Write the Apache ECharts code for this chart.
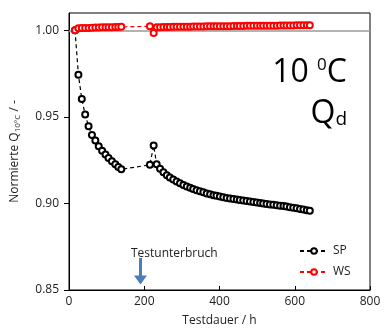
<!DOCTYPE html>
<html><head><meta charset="utf-8">
<script src="https://cdn.jsdelivr.net/npm/echarts@6/dist/echarts.min.js"></script>
<style>html,body{margin:0;padding:0;background:#fff}#c{width:384px;height:332px}</style>
</head><body><div id="c"></div>
<script>
// Testdauer (h)
var timesA = [16, 25, 34, 43, 52, 61, 70, 79, 88, 97, 105, 114, 123, 131, 139];
var timesB = [215, 225, 233, 242, 251, 260, 268, 277, 286, 295, 304, 313, 322, 330, 339, 348, 357, 366, 375, 384, 392, 401, 410, 419, 428, 437, 446, 454, 463, 472, 481, 490, 499, 508, 516, 525, 534, 543, 552, 561, 570, 578, 587, 596, 605, 614, 623, 632, 640];
var spA = [1.000, 0.9743, 0.9603, 0.9513, 0.9446, 0.9395, 0.9364, 0.9330, 0.9305, 0.9282, 0.9263, 0.9243, 0.9226, 0.9211, 0.9197];
var spB = [0.9223, 0.9335, 0.9226, 0.9200, 0.9180, 0.9163, 0.9150, 0.9138, 0.9126, 0.9116, 0.9107, 0.9098, 0.9090, 0.9083, 0.9076, 0.9070, 0.9064, 0.9058, 0.9053, 0.9048, 0.9044, 0.9040, 0.9036, 0.9032, 0.9029, 0.9026, 0.9023, 0.9020, 0.9017, 0.9014, 0.9011, 0.9008, 0.9005, 0.9002, 0.8999, 0.8997, 0.8994, 0.8992, 0.8989, 0.8987, 0.8985, 0.8982, 0.8978, 0.8975, 0.8972, 0.8968, 0.8965, 0.8961, 0.8958];
var wsA = [1.000, 1.0012, 1.0013, 1.0014, 1.0014, 1.0015, 1.0016, 1.0016, 1.0017, 1.0017, 1.0018, 1.0018, 1.0019, 1.0019, 1.0020];
var wsB = [1.0023, 0.9985, 1.0018, 1.0018, 1.0019, 1.0019, 1.0019, 1.0020, 1.0020, 1.0020, 1.0021, 1.0021, 1.0021, 1.0022, 1.0022, 1.0022, 1.0022, 1.0023, 1.0023, 1.0023, 1.0023, 1.0024, 1.0024, 1.0024, 1.0024, 1.0025, 1.0025, 1.0025, 1.0025, 1.0026, 1.0026, 1.0026, 1.0026, 1.0026, 1.0027, 1.0027, 1.0027, 1.0027, 1.0027, 1.0028, 1.0028, 1.0028, 1.0028, 1.0028, 1.0029, 1.0029, 1.0029, 1.0029, 1.0029];
var yTicks = [0.85, 0.90, 0.95, 1.00];
var xTicks = [0, 200, 400, 600, 800];
var breakTime = 190;
var breakLabel = 'Testunterbruch';

function pairs(t, v) { return t.map(function (x, i) { return [x, v[i]]; }); }
var spData = pairs(timesA, spA).concat(pairs(timesB, spB));
var wsData = pairs(timesA, wsA).concat(pairs(timesB, wsB));

var FONT = '"Open Sans", sans-serif';
var chart = echarts.init(document.getElementById('c'), null, {renderer: 'canvas'});
chart.setOption({
  animation: false,
  textStyle: {fontFamily: FONT},
  grid: {left: 69, right: 14, top: 13, bottom: 41, show: true, borderColor: '#000', borderWidth: 1, backgroundColor: 'transparent'},
  xAxis: {
    type: 'value', min: 0, max: 800, interval: 200,
    name: 'Testdauer / h', nameLocation: 'middle', nameGap: 25,
    nameTextStyle: {fontFamily: FONT, fontSize: 12, color: '#222'},
    axisLine: {lineStyle: {color: '#000', width: 1}},
    axisTick: {inside: true, length: 4, lineStyle: {color: '#000'}},
    axisLabel: {fontFamily: FONT, fontSize: 12, color: '#222', margin: 6},
    splitLine: {show: false}
  },
  yAxis: {
    type: 'value', min: 0.85, max: 1.01, interval: 0.05,
    name: '{a|Normierte Q}{s|10°C}{a| / -}', nameLocation: 'middle', nameGap: 47, nameRotate: 90,
    nameTextStyle: {rich: {
      a: {fontFamily: FONT, fontSize: 12, color: '#222'},
      s: {fontFamily: FONT, fontSize: 8, color: '#222', padding: [6, 0, 0, 0]}
    }},
    axisLine: {show: true, lineStyle: {color: '#000', width: 1}},
    axisTick: {inside: false, length: 5, customValues: yTicks, lineStyle: {color: '#000'}},
    axisLabel: {fontFamily: FONT, fontSize: 12, color: '#222', margin: 10, customValues: yTicks,
      formatter: function (v) { return v.toFixed(2); }},
    splitLine: {show: false}
  },
  legend: {
    orient: 'vertical', left: 294, top: 240, itemGap: 9, itemWidth: 28, itemHeight: 7,
    textStyle: {fontFamily: FONT, fontSize: 12, color: '#222'},
    data: ['SP', 'WS']
  },
  series: [
    {
      name: 'SP', type: 'line', data: spData, z: 3,
      symbol: 'emptyCircle', symbolSize: 6,
      lineStyle: {color: '#000', width: 1.2, type: [4, 3]},
      itemStyle: {color: '#000', borderColor: '#000', borderWidth: 1},
      markLine: {
        silent: true, symbol: ['none', 'triangle'], symbolSize: [13, 9], symbolRotate: 180,
        lineStyle: {color: '#4a7ebb', width: 3, type: 'solid'},
        label: {show: false},
        data: [[{coord: [breakTime, 0.8685]}, {coord: [breakTime, 0.8558]}]]
      }
    },
    {
      name: 'WS', type: 'line', data: wsData, z: 4,
      symbol: 'emptyCircle', symbolSize: 6,
      lineStyle: {color: '#ff0000', width: 1.2, type: [4, 3]},
      itemStyle: {color: '#ff0000', borderColor: '#ff0000', borderWidth: 1},
      markLine: {
        silent: true, symbol: 'none', z: 1,
        lineStyle: {color: '#9a9a9a', width: 1.5, type: 'solid'},
        label: {show: false},
        data: [{yAxis: 1.0}]
      }
    }
  ],
  graphic: [
    {type: 'text', left: 131, top: 248, style: {text: breakLabel, font: '12px ' + FONT, fill: '#222'}},
    {type: 'text', right: 37, top: 57, style: {
      text: '{b|10 }{sup|0}{b|C}', align: 'right',
      rich: {b: {fontFamily: FONT, fontSize: 32, color: '#000'},
             sup: {fontFamily: FONT, fontSize: 17, color: '#000', padding: [0, 0, 15, 0]}}}},
    {type: 'text', right: 37, top: 98, style: {
      text: '{b|Q}{sub|d}',
      rich: {b: {fontFamily: FONT, fontSize: 32, color: '#000'},
             sub: {fontFamily: FONT, fontSize: 19, color: '#000', padding: [12, 0, 0, 0]}}}}
  ]
});
</script></body></html>
